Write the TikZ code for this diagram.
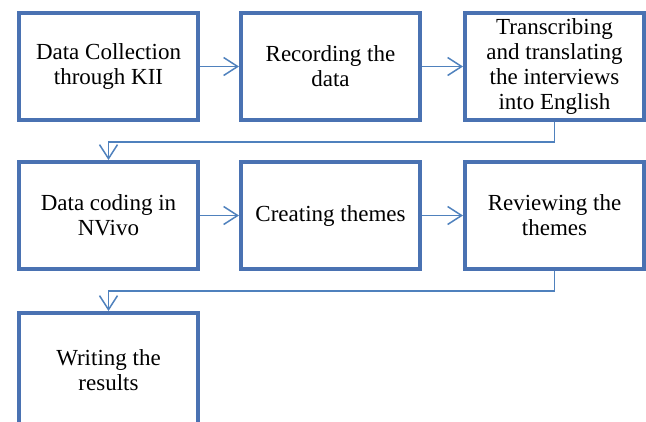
\documentclass[tikz,border=0pt]{standalone}
\usepackage{fontspec}
\setmainfont{Liberation Serif}
\usepackage{tikz}
\usetikzlibrary{positioning,arrows.meta}
\definecolor{boxline}{RGB}{74,114,178}
\definecolor{arrline}{RGB}{79,129,189}

\begin{document}
\begin{tikzpicture}[
                  x=1pt,y=-1pt,
                  font=\fontsize{23}{25}\selectfont,
                  stage/.style={draw=boxline,line width=4pt,align=center,minimum width=179pt,minimum height=107pt,inner sep=2pt},
                  arr/.style={draw=arrline,line width=1.5pt,-{Straight Barb[length=14pt,width=18pt,line width=1.5pt]}}
                ]
                \useasboundingbox (0,0) rectangle (646,421);
                \node[stage] (s1) at (108.5,66.5) {Data Collection\\through KII};
                \node[stage,right=39pt of s1] (s2) {Recording the\\data};
                \node[stage,right=41pt of s2] (s3) {Transcribing\\and translating\\the interviews\\into English};
                \node[stage,below=38pt of s1] (s4) {Data coding in\\NVivo};
                \node[stage,right=39pt of s4] (s5) {Creating themes};
                \node[stage,right=41pt of s5] (s6) {Reviewing the\\themes};
                \node[stage,below=40pt of s4,minimum height=115pt] (s7) {Writing the\\results};

                \draw[arr] (s1) -- (s2);
                \draw[arr] (s2) -- (s3);
                \draw[arr] (s3.south) -- ++(0,20) -| (s4.north);
                \draw[arr] (s4) -- (s5);
                \draw[arr] (s5) -- (s6);
                \draw[arr] (s6.south) -- ++(0,20) -| (s7.north);
                \end{tikzpicture}
\end{document}
